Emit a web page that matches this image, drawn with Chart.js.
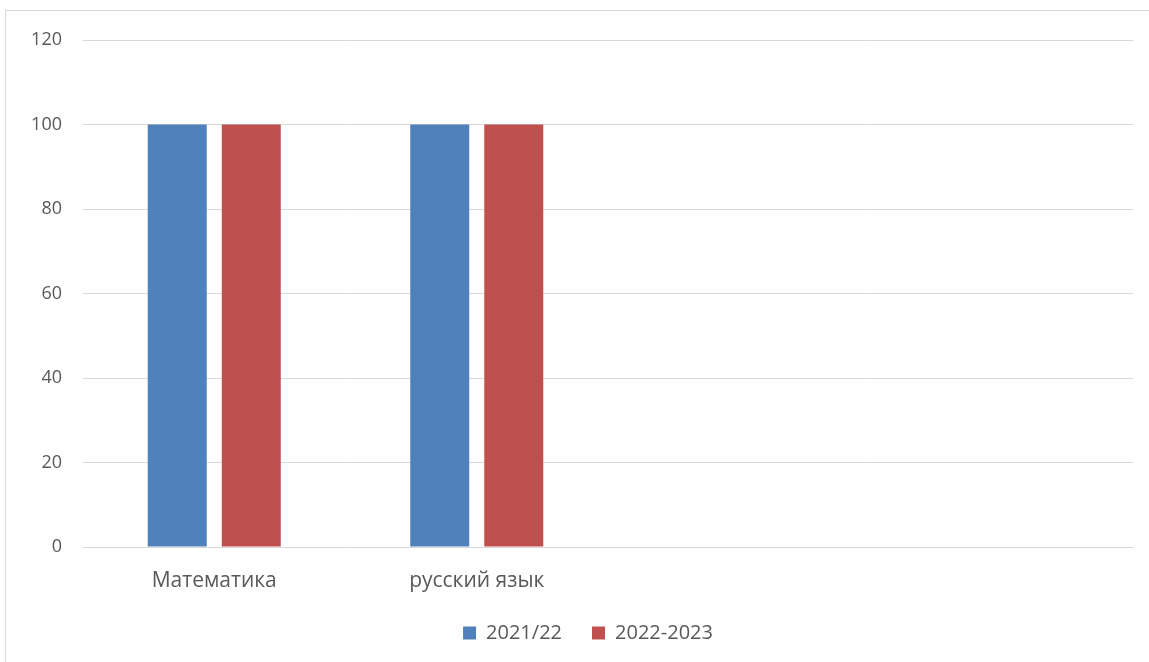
<!DOCTYPE html>
<html>
<head>
<meta charset="utf-8">
<script src="https://cdn.jsdelivr.net/npm/chart.js@4/dist/chart.umd.min.js"></script>
<style>
  html, body { margin: 0; padding: 0; background: #fff; overflow: hidden; }
  #box {
    position: absolute; left: 5px; top: 10px;
    width: 1166px; height: 670px;
    border: 1px solid #d9d9d9; box-sizing: border-box;
  }
  #box canvas { display: block; }
</style>
</head>
<body>
<div id="box"><canvas id="resultChart"></canvas></div>
<script>
// категории (две последние пустые — в исходнике так)
const categories = ['Математика', 'русский язык', '', ''];
const year1 = [100, 100, null, null];   // 2021/22
const year2 = [100, 100, null, null];   // 2022-2023
const yTicks = [0, 20, 40, 60, 80, 100, 120];

const textColor = '#595959';
const gridColor = '#d9d9d9';

const ctx = document.getElementById('resultChart').getContext('2d');
const chart = new Chart(ctx, {
  type: 'bar',
  data: {
    labels: categories,
    datasets: [
      { label: '2021/22', data: year1, backgroundColor: '#4f81bd',
        categoryPercentage: 0.564, barPercentage: 0.797 },
      { label: '2022-2023', data: year2, backgroundColor: '#c0504d',
        categoryPercentage: 0.564, barPercentage: 0.797 }
    ]
  },
  options: {
    responsive: true,
    maintainAspectRatio: false,
    animation: false,
    layout: { padding: { left: 0, right: 0, top: 29, bottom: 26 } },
    plugins: {
      legend: {
        position: 'bottom',
        labels: {
          color: textColor,
          font: { family: 'Open Sans', size: 20 },
          boxWidth: 13, boxHeight: 13,
          padding: 30
        }
      },
      tooltip: { enabled: false }
    },
    scales: {
      x: {
        grid: { display: false, drawTicks: false },
        border: { display: true, color: gridColor, width: 1 },
        ticks: {
          color: textColor, padding: 21,
          font: { family: 'Open Sans', size: 21 },
          maxRotation: 0
        },
        afterFit: s => { s.height = 46; }
      },
      y: {
        min: 0, max: 120,
        afterBuildTicks: s => { s.ticks = yTicks.map(v => ({ value: v })); },
        grid: { color: gridColor, lineWidth: 1, drawTicks: false },
        border: { display: false },
        ticks: {
          color: textColor, padding: 21,
          font: { family: 'Open Sans', size: 18 }
        },
        // ширина оси фиксирована, отступ сверху задаёт layout.padding
        afterFit: s => { s.width = 77; s.paddingTop = 12; s.paddingBottom = 12; }
      },
      // пустое место справа от области графика
      yRight: {
        position: 'right',
        grid: { display: false, drawTicks: false },
        border: { display: false },
        ticks: { display: false },
        afterFit: s => { s.width = 37; }
      }
    }
  }
});
</script>
</body>
</html>
